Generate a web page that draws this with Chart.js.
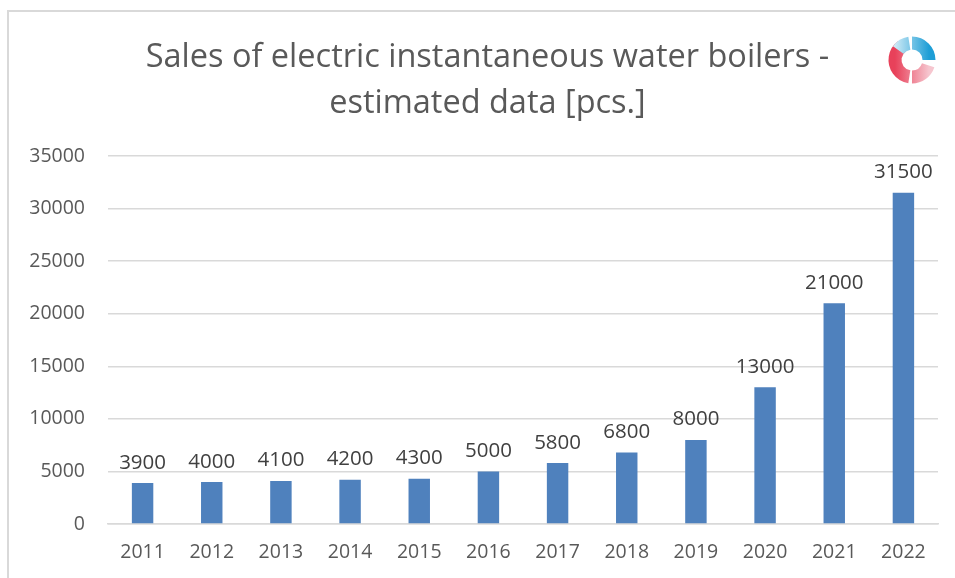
<!DOCTYPE html>
<html>
<head>
<meta charset="utf-8">
<script src="https://cdn.jsdelivr.net/npm/chart.js@4"></script>
<style>
  body { margin: 0; background: #fff; }
  #wrap { position: absolute; left: 0; top: 0; width: 955px; height: 578px; }
  #frame { position: absolute; left: 7px; top: 10px; width: 960px; height: 580px;
           border-left: 2px solid #d9d9d9; border-top: 2px solid #d9d9d9; }
</style>
</head>
<body>
<div id="wrap">
  <div id="frame"></div>
  <canvas id="grafica" width="955" height="578"></canvas>
</div>
<script>
const years = ['2011', '2012', '2013', '2014', '2015', '2016', '2017', '2018', '2019', '2020', '2021', '2022'];
const sales = [3900, 4000, 4100, 4200, 4300, 5000, 5800, 6800, 8000, 13000, 21000, 31500];
const titleLines = ['Sales of electric instantaneous water boilers -', 'estimated data [pcs.]'];

const font = "Open Sans, sans-serif";

// etiquetas encima de cada barra
const etiquetas = {
    id: 'etiquetas',
    afterDatasetsDraw(chart) {
        const ctx = chart.ctx;
        const meta = chart.getDatasetMeta(0);
        ctx.save();
        ctx.fillStyle = '#404040';
        ctx.font = '20.5px ' + font;
        ctx.textAlign = 'center';
        ctx.textBaseline = 'bottom';
        meta.data.forEach((bar, i) => {
            ctx.fillText(String(sales[i]), bar.x, bar.y - 10);
        });
        ctx.restore();
    }
};

// logo simple arriba a la derecha
const logo = {
    id: 'logo',
    afterDraw(chart) {
        const ctx = chart.ctx;
        const cx = 912, cy = 60, r = 17;
        ctx.save();
        ctx.lineWidth = 13;
        ctx.lineCap = 'butt';
        let g = ctx.createLinearGradient(cx - r, cy, cx + r, cy);
        g.addColorStop(0, '#e8415a');
        g.addColorStop(1, '#f6c6cf');
        ctx.strokeStyle = g;
        ctx.beginPath();
        ctx.arc(cx, cy, r, Math.PI * 0.55, Math.PI * 1.3);
        ctx.stroke();
        ctx.beginPath();
        ctx.arc(cx, cy, r, Math.PI * 0.1, Math.PI * 0.5);
        ctx.stroke();
        g = ctx.createLinearGradient(cx - r, cy, cx + r, cy);
        g.addColorStop(0, '#cdeaf6');
        g.addColorStop(1, '#1e9ed6');
        ctx.strokeStyle = g;
        ctx.beginPath();
        ctx.arc(cx, cy, r, Math.PI * 1.5, Math.PI * 2.0);
        ctx.stroke();
        ctx.beginPath();
        ctx.arc(cx, cy, r, Math.PI * 1.2, Math.PI * 1.45);
        ctx.stroke();
        ctx.restore();
    }
};

const ctx = document.getElementById('grafica').getContext('2d');

new Chart(ctx, {
    type: 'bar',
    data: {
        labels: years,
        datasets: [{
            data: sales,
            backgroundColor: '#4f81bd',
            categoryPercentage: 1,
            barPercentage: 0.31
        }]
    },
    options: {
        responsive: false,
        animation: false,
        layout: { padding: { left: 20, right: 17, top: 27, bottom: 9 } },
        scales: {
            x: {
                afterFit(scale) { scale.height = 45; },
                grid: { display: false, drawTicks: false },
                border: { color: '#d9d9d9', width: 1.5 },
                ticks: { color: '#595959', font: { family: font, size: 19.5 }, padding: 17 }
            },
            y: {
                min: 0,
                max: 35000,
                afterFit(scale) { scale.width = 88; },
                grid: { color: '#d9d9d9', lineWidth: 1.5, drawTicks: false },
                border: { display: false },
                ticks: {
                    stepSize: 5000,
                    color: '#595959',
                    font: { family: font, size: 19.5 },
                    padding: 23,
                    callback: v => String(v)
                }
            }
        },
        plugins: {
            legend: { display: false },
            tooltip: { enabled: false },
            title: {
                display: true,
                // espacios iniciales para desplazar el título un poco a la derecha
                text: titleLines.map(t => '\u00a0\u00a0' + t),
                color: '#595959',
                font: { family: font, size: 32.5, weight: 'normal', lineHeight: 1.4 },
                padding: { top: 8, bottom: 30 }
            }
        }
    },
    plugins: [etiquetas, logo]
});
</script>
</body>
</html>
